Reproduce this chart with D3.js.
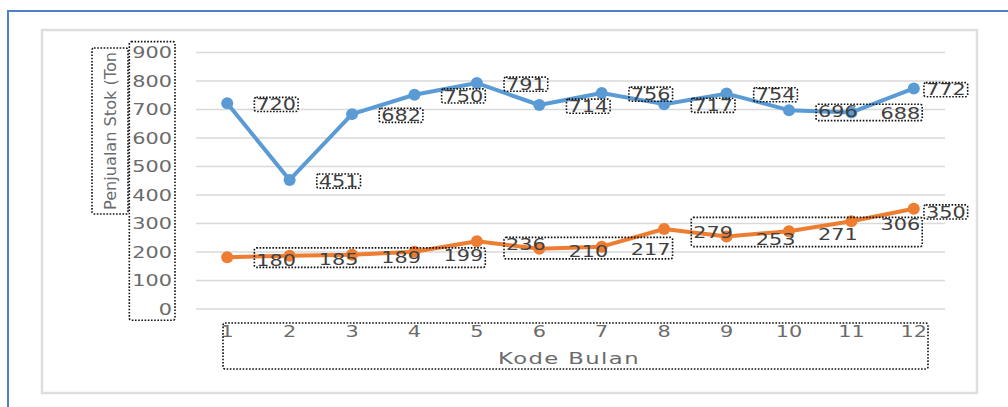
<!DOCTYPE html>
<html>
<head>
<meta charset="utf-8">
<script src="https://cdn.jsdelivr.net/npm/d3@7"></script>
<style>
    body { margin: 0; background: #fff; }
    svg { display: block; }
    text { font-family: "DejaVu Sans", Verdana, sans-serif; }
</style>
</head>
<body>
<div id="chart-area"></div>
<script>

// data
var kodeBulan = ["1", "2", "3", "4", "5", "6", "7", "8", "9", "10", "11", "12"];
var nilaiBiru = [720, 451, 682, 750, 791, 714, 756, 717, 754, 696, 688, 772];
var nilaiOranye = [180, 185, 189, 199, 236, 210, 217, 279, 253, 271, 306, 350];
var yTicks = [0, 100, 200, 300, 400, 500, 600, 700, 800, 900];

// which labels share one dotted box (indexes into the series)
var kotakBiru = [[0], [1], [2], [3], [4], [5], [6], [7], [8], [9, 10], [11]];
var kotakOranye = [[0, 1, 2, 3], [4, 5, 6], [7, 8, 9, 10], [11]];

function LineChart(){
    this.initVis();
    this.updateVis();
}

LineChart.prototype.initVis = function(){
    var vis = this;

    vis.svg = d3.select("#chart-area").append("svg")
        .attr("width", 1008)
        .attr("height", 407);

    // frame of the screenshot
    vis.svg.append("path")
        .attr("d", "M8,407 L8,11 L1008,11")
        .attr("fill", "none")
        .attr("stroke", "#4f81c7")
        .attr("stroke-width", 2);

    vis.svg.append("rect")
        .attr("x", 42).attr("y", 30)
        .attr("width", 935).attr("height", 363)
        .attr("fill", "#fff")
        .attr("stroke", "#dedede")
        .attr("stroke-width", 2.5);

    vis.x = d3.scaleBand()
        .domain(kodeBulan)
        .range([196, 945]);

    vis.y = d3.scaleLinear()
        .domain([0, 900])
        .range([308.5, 52]);

    vis.sx = 1.3;
};

LineChart.prototype.cx = function(d, i){
    return this.x(kodeBulan[i]) + this.x.bandwidth() / 2;
};

LineChart.prototype.updateVis = function(){
    var vis = this;

    // gridlines + y labels
    var yAxis = d3.axisLeft(vis.y)
        .tickValues(yTicks)
        .tickSize(-(vis.x.range()[1] - vis.x.range()[0]))
        .tickPadding(24);

    var gy = vis.svg.append("g")
        .attr("class", "y-axis")
        .attr("transform", "translate(196,0)")
        .call(yAxis);
    gy.select(".domain").remove();
    gy.selectAll("line")
        .attr("stroke", "#d9d9d9")
        .attr("stroke-width", 1.6);
    gy.selectAll("text")
        .attr("x", -24 / vis.sx)
        .attr("dy", "0.36em")
        .attr("transform", "scale(" + vis.sx + ",1)")
        .attr("fill", "#6b6b6b")
        .style("font-size", "16px");

    // x labels
    var xAxis = d3.axisBottom(vis.x)
        .tickSize(0)
        .tickPadding(0);

    var gx = vis.svg.append("g")
        .attr("class", "x-axis")
        .attr("transform", "translate(0,331)")
        .call(xAxis);
    gx.select(".domain").remove();
    gx.selectAll("text")
        .attr("y", 0)
        .attr("dy", "0.36em")
        .attr("transform", "scale(" + vis.sx + ",1)")
        .attr("fill", "#6b6b6b")
        .style("font-size", "16px");

    vis.svg.append("text")
        .attr("transform", "translate(569,358) scale(1.42,1)")
        .attr("text-anchor", "middle")
        .attr("dy", "0.36em")
        .attr("fill", "#6b6b6b")
        .style("font-size", "16px")
        .style("letter-spacing", "1px")
        .text("Kode Bulan");

    vis.svg.append("text")
        .attr("transform", "translate(110,210) rotate(-90)")
        .attr("dy", "0.36em")
        .attr("fill", "#6b6b6b")
        .attr("textLength", 158)
        .attr("lengthAdjust", "spacingAndGlyphs")
        .style("font-size", "16px")
        .text("Penjualan Stok (Ton");

    vis.drawSeries(nilaiBiru, "#5b9bd5", kotakBiru, 1);
    vis.drawSeries(nilaiOranye, "#ed7d31", kotakOranye, 3);

    // dotted boxes round the axis labels
    vis.dotBox(gy.selectAll("text"), 3, 2);
    vis.svg.append("rect")
        .attr("x", 223).attr("y", 323)
        .attr("width", 705).attr("height", 46)
        .call(vis.dotStyle);
    vis.svg.append("rect")
        .attr("x", 92).attr("y", 48)
        .attr("width", 36).attr("height", 166)
        .call(vis.dotStyle);
};

LineChart.prototype.drawSeries = function(values, color, groups, dy){
    var vis = this;

    var line = d3.line()
        .x(function(d, i){ return vis.cx(d, i); })
        .y(function(d){ return vis.y(d); });

    vis.svg.append("path")
        .datum(values)
        .attr("d", line)
        .attr("fill", "none")
        .attr("stroke", color)
        .attr("stroke-width", 4)
        .attr("stroke-linejoin", "round");

    vis.svg.selectAll(null)
        .data(values)
        .enter()
        .append("circle")
        .attr("cx", function(d, i){ return vis.cx(d, i); })
        .attr("cy", function(d){ return vis.y(d); })
        .attr("r", 6)
        .attr("fill", color);

    groups.forEach(function(idx){
        var g = vis.svg.append("g");
        var labels = g.selectAll("text")
            .data(idx)
            .enter()
            .append("text")
            .attr("transform", function(i){
                var dx = i == values.length - 1 ? 32 : 49;
                return "translate(" + (vis.cx(values[i], i) + dx) + "," + (vis.y(values[i]) + dy) + ") scale(" + vis.sx + ",1)";
            })
            .attr("text-anchor", "middle")
            .attr("dy", "0.36em")
            .attr("fill", "#404040")
            .style("font-size", "16px")
            .text(function(i){ return values[i]; });
        vis.dotBox(labels, 2, -2);
    });
};

LineChart.prototype.dotStyle = function(sel){
    sel.attr("fill", "none")
        .attr("stroke", "#111")
        .attr("stroke-width", 1.6)
        .attr("stroke-dasharray", "1.6,1.6")
        .attr("rx", 2);
};

// box round the screen bbox of a text selection
LineChart.prototype.dotBox = function(sel, padX, padY){
    var vis = this;
    var x0 = Infinity, y0 = Infinity, x1 = -Infinity, y1 = -Infinity;
    sel.each(function(){
        var r = this.getBoundingClientRect();
        x0 = Math.min(x0, r.left);
        y0 = Math.min(y0, r.top);
        x1 = Math.max(x1, r.right);
        y1 = Math.max(y1, r.bottom);
    });
    vis.svg.append("rect")
        .attr("x", x0 - padX)
        .attr("y", y0 - padY)
        .attr("width", x1 - x0 + padX * 2)
        .attr("height", y1 - y0 + padY * 2)
        .call(vis.dotStyle);
};

new LineChart();

</script>
</body>
</html>
